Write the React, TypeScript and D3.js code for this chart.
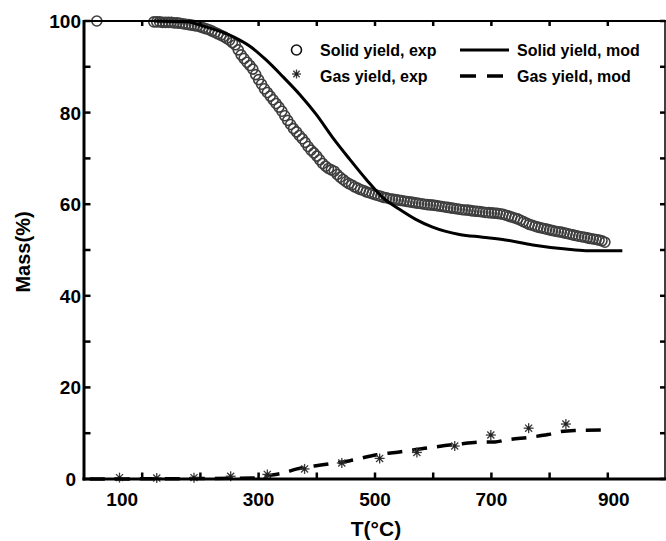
import React from "react";
import * as d3 from "d3";

const W = 666;
const H = 541;

// Solid yield, experimental (T °C, mass %)
const solidExpT = [22,
  120, 125, 130, 135, 140, 145, 150, 155, 160, 165, 170, 175, 180, 185, 190, 195,
  200, 205, 210, 215, 220, 225, 230, 235, 240, 245, 250, 255, 260, 265, 270, 275,
  280, 285, 290, 295, 300, 305, 310, 315, 320, 325, 330, 335, 340, 345, 350, 355,
  360, 365, 370, 375, 380, 385, 390, 395, 400, 405, 410, 415, 420, 425, 430, 435,
  440, 445, 450, 455, 460, 465, 470, 475, 480, 485, 490, 495, 500, 505, 510, 515,
  520, 525, 530, 535, 540, 545, 550, 555, 560, 565, 570, 575, 580, 585, 590, 595,
  600, 605, 610, 615, 620, 625, 630, 635, 640, 645, 650, 655, 660, 665, 670, 675,
  680, 685, 690, 695, 700, 705, 710, 715, 720, 725, 730, 735, 740, 745, 750, 755,
  760, 765, 770, 775, 780, 785, 790, 795, 800, 805, 810, 815, 820, 825, 830, 835,
  840, 845, 850, 855, 860, 865, 870, 875, 880, 885, 890, 895];
const solidExpMass = [100,
  99.8, 99.8, 99.8, 99.7, 99.7, 99.7, 99.7, 99.6, 99.6, 99.5, 99.4, 99.3, 99.2, 99.1, 99.0, 98.9,
  98.7, 98.5, 98.3, 98.1, 97.8, 97.5, 97.2, 96.9, 96.6, 96.2, 95.8, 95.3, 94.8, 93.7, 92.6, 91.8,
  91.0, 90.3, 89.5, 88.3, 87.2, 86.2, 85.2, 84.4, 83.6, 82.8, 82.0, 81.2, 80.3, 79.3, 78.3, 77.4,
  76.5, 75.8, 75.0, 74.3, 73.5, 72.6, 71.8, 71.2, 70.5, 69.7, 68.9, 68.3, 67.8, 67.5, 67.2, 66.5,
  65.9, 65.4, 64.9, 64.5, 64.2, 63.8, 63.5, 63.2, 63.0, 62.7, 62.5, 62.3, 62.1, 61.9, 61.7, 61.5,
  61.4, 61.2, 61.1, 61.0, 60.9, 60.8, 60.7, 60.6, 60.5, 60.4, 60.3, 60.2, 60.1, 60.0, 59.9, 59.85,
  59.8, 59.7, 59.6, 59.5, 59.4, 59.3, 59.2, 59.1, 59.0, 58.9, 58.8, 58.75, 58.7, 58.6, 58.5, 58.45,
  58.4, 58.3, 58.2, 58.15, 58.1, 58.05, 58.0, 57.9, 57.8, 57.6, 57.4, 57.2, 57.0, 56.8, 56.5, 56.2,
  55.9, 55.6, 55.4, 55.2, 55.0, 54.85, 54.7, 54.55, 54.4, 54.25, 54.1, 54.0, 53.9, 53.75, 53.6, 53.45,
  53.3, 53.15, 53.0, 52.9, 52.8, 52.65, 52.5, 52.4, 52.3, 52.15, 52.0, 51.7];

// Solid yield, model
const solidModT = [120, 180, 199, 256, 285, 312, 342, 371, 399, 427, 456, 485, 513, 542, 570, 599, 645, 685, 724, 771, 828, 862, 925];
const solidModMass = [100, 99.8, 99.1, 96.6, 94.5, 91.6, 87.8, 83.9, 79.6, 74.6, 69.9, 65.4, 61.5, 58.9, 56.7, 55.0, 53.4, 52.8, 52.2, 51.1, 50.2, 49.85, 49.85];

// Gas yield, experimental
const gasExpT = [61, 125, 189, 252, 315, 379, 443, 508, 572, 637, 699, 764, 828];
const gasExpMass = [0.3, 0.2, 0.3, 0.6, 1.0, 2.2, 3.5, 4.5, 5.8, 7.2, 9.6, 11.1, 12.0];

// Gas yield, model
const gasModT = [10, 290, 319, 342, 366, 410, 457, 503, 542, 591, 642, 690, 706, 724, 771, 797, 817, 843, 905];
const gasModMass = [0, 0.2, 0.8, 1.3, 2.2, 3.1, 4.0, 5.3, 5.9, 6.8, 7.6, 8.1, 8.1, 8.5, 9.2, 9.7, 10.3, 10.6, 10.7];

const xTicks = [100, 200, 300, 400, 500, 600, 700, 800, 900];
const xTickLabels = [100, 300, 500, 700, 900];
const xLabelShift = [-20, 0, 0, 0, 6];
const yTicks = [0, 10, 20, 30, 40, 50, 60, 70, 80, 90, 100];
const yTickLabels = [0, 20, 40, 60, 80, 100];
const yLabelShift = [-5, 0, 0, 0, 0, 0];

const legendLabels = ["Solid yield, exp", "Gas yield, exp", "Solid yield, mod", "Gas yield, mod"];

const FONT = "'Liberation Sans', Arial, sans-serif";

function Star({ x, y, r = 5 }: { x: number; y: number; r?: number }) {
  const angles = [0, 45, 90, 135];
  return (
    <g>
      {angles.map((a) => {
        const rad = (a * Math.PI) / 180;
        return (
          <line
            key={a}
            x1={x - r * Math.cos(rad)}
            y1={y - r * Math.sin(rad)}
            x2={x + r * Math.cos(rad)}
            y2={y + r * Math.sin(rad)}
            stroke="#3a3a3a"
            strokeWidth={1.3}
          />
        );
      })}
      <circle cx={x} cy={y} r={1.8} fill="#222" />
    </g>
  );
}

export default function App() {
  const x = d3.scaleLinear().domain([0, 1000]).range([84, 666]);
  const y = d3.scaleLinear().domain([0, 100]).range([479, 21]);

  const line = d3
    .line<[number, number]>()
    .x((d) => x(d[0]))
    .y((d) => y(d[1]))
    .curve(d3.curveMonotoneX);

  const solidMod: [number, number][] = solidModT.map((t, i) => [t, solidModMass[i]]);
  const gasMod: [number, number][] = gasModT.map((t, i) => [t, gasModMass[i]]);

  const left = x(0);
  const right = 665;
  const top = y(100);
  const bottom = y(0);
  const tl = 5;

  return (
    <svg
      width={W}
      height={H}
      style={{ position: "absolute", left: 0, top: 0, background: "#fff" }}
      fontFamily={FONT}
    >
      <rect x={0} y={0} width={W} height={H} fill="#fff" />

      {/* solid exp circles */}
      <g fill="none" stroke="#3e3e3e" strokeWidth={1.6}>
        {solidExpT.map((t, i) => (
          <circle key={i} cx={x(t)} cy={y(solidExpMass[i])} r={5} />
        ))}
      </g>

      {/* solid model */}
      <path d={line(solidMod) || ""} fill="none" stroke="#000" strokeWidth={3} />

      {/* gas model */}
      <path
        d={line(gasMod) || ""}
        fill="none"
        stroke="#000"
        strokeWidth={3.5}
        strokeDasharray="15,10"
      />

      {/* gas exp stars */}
      {gasExpT.map((t, i) => (
        <Star key={i} x={x(t)} y={y(gasExpMass[i])} />
      ))}

      {/* frame */}
      <line x1={left} x2={right + 1} y1={top} y2={top} stroke="#000" strokeWidth={2} />
      <line x1={right} x2={right} y1={top} y2={bottom} stroke="#000" strokeWidth={1.5} />
      <line x1={left} x2={left} y1={top - 1} y2={bottom + 1.5} stroke="#000" strokeWidth={3} />
      <line x1={left - 1.5} x2={W} y1={bottom} y2={bottom} stroke="#000" strokeWidth={3} />

      {/* x ticks */}
      {xTicks.map((t) => (
        <g key={t}>
          <line x1={x(t)} x2={x(t)} y1={bottom} y2={bottom - tl - 1.5} stroke="#000" strokeWidth={2.5} />
          <line x1={x(t)} x2={x(t)} y1={top} y2={top + tl} stroke="#000" strokeWidth={2.5} />
        </g>
      ))}
      {xTickLabels.map((t, i) => (
        <text
          key={t}
          x={x(t) + xLabelShift[i]}
          y={506}
          textAnchor="middle"
          fontSize={19}
          fontWeight="bold"
        >
          {t}
        </text>
      ))}

      {/* y ticks */}
      {yTicks.map((t) => (
        <g key={t}>
          <line x1={left} x2={left + tl + 1.5} y1={y(t)} y2={y(t)} stroke="#000" strokeWidth={2.5} />
          <line x1={right} x2={right - tl} y1={y(t)} y2={y(t)} stroke="#000" strokeWidth={2.5} />
        </g>
      ))}
      {yTickLabels.map((t, i) => (
        <text
          key={t}
          x={81 + yLabelShift[i]}
          y={y(t) + 7}
          textAnchor="end"
          fontSize={19}
          fontWeight="bold"
        >
          {t}
        </text>
      ))}

      {/* axis titles */}
      <text x={376} y={536} textAnchor="middle" fontSize={21} fontWeight="bold">
        T(°C)
      </text>
      <text
        transform={`translate(30,${252}) rotate(-90)`}
        textAnchor="middle"
        fontSize={20}
        fontWeight="bold"
      >
        Mass(%)
      </text>

      {/* legend */}
      <g fontSize={16} fontWeight="bold">
        <circle cx={296.5} cy={50} r={5} fill="none" stroke="#111" strokeWidth={1.6} />
        <text x={320} y={56}>{legendLabels[0]}</text>
        <Star x={296.5} y={74} r={4.5} />
        <text x={320} y={82}>{legendLabels[1]}</text>
        <line x1={460} x2={509} y1={50} y2={50} stroke="#000" strokeWidth={3} />
        <text x={517} y={56}>{legendLabels[2]}</text>
        <line x1={460} x2={505} y1={76} y2={76} stroke="#000" strokeWidth={3.5} strokeDasharray="16,11" />
        <text x={517} y={82}>{legendLabels[3]}</text>
      </g>
    </svg>
  );
}
